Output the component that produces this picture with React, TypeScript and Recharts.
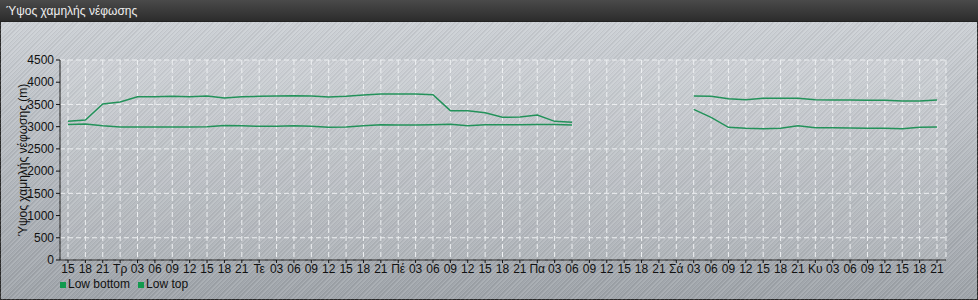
import { LineChart, Line, XAxis, YAxis, CartesianGrid } from 'recharts'

const hours = ['15', '18', '21', 'Τρ', '03', '06', '09', '12', '15', '18', '21', 'Τε', '03', '06', '09', '12', '15', '18', '21', 'Πέ', '03', '06', '09', '12', '15', '18', '21', 'Πα', '03', '06', '09', '12', '15', '18', '21', 'Σά', '03', '06', '09', '12', '15', '18', '21', 'Κυ', '03', '06', '09', '12', '15', '18', '21']

const lowBottom = [3050, 3060, 3020, 2992, 2995, 2995, 2995, 2990, 3000, 3025, 3020, 3007, 3012, 3020, 3012, 2985, 2990, 3020, 3045, 3040, 3040, 3045, 3055, 3022, 3045, 3045, 3045, 3050, 3050, 3037, null, null, null, null, null, null, 3390, 3210, 2985, 2962, 2955, 2962, 3022, 2977, 2977, 2970, 2962, 2962, 2955, 2985, 2992]

const lowTop = [3120, 3150, 3510, 3555, 3675, 3675, 3683, 3675, 3690, 3645, 3675, 3683, 3690, 3697, 3690, 3667, 3683, 3712, 3735, 3735, 3735, 3720, 3360, 3360, 3315, 3210, 3215, 3262, 3120, 3097, null, null, null, null, null, null, 3690, 3683, 3630, 3608, 3637, 3637, 3637, 3608, 3600, 3600, 3593, 3593, 3578, 3578, 3600]

const yTicks = [0, 500, 1000, 1500, 2000, 2500, 3000, 3500, 4000, 4500]

const data = hours.map((h, i) => ({ idx: i, h, bottom: lowBottom[i], top: lowTop[i] }))

const GREEN = '#23925a'
const font = '"Liberation Sans", Arial, sans-serif'

export default function App() {
  return (
    <div style={{ position: 'absolute', left: 0, top: 0, width: 978, height: 300, fontFamily: font, overflow: 'hidden' }}>
      <div style={{ position: 'absolute', left: 0, top: 0, width: 978, height: 300, boxSizing: 'border-box', border: '1px solid #2a2a2a', background: 'linear-gradient(#d0d4d9, #9fa4aa)' }} />
      <div style={{ position: 'absolute', left: 0, top: 0, width: 978, height: 300, backgroundImage: 'repeating-linear-gradient(135deg, rgba(255,255,255,0.10) 0px, rgba(255,255,255,0.10) 1px, rgba(0,0,0,0.05) 1px, rgba(0,0,0,0.05) 2px, transparent 2px, transparent 3px)' }} />
      <div style={{ position: 'absolute', left: 0, top: 0, width: 978, height: 22, background: 'linear-gradient(#4a4a4a, #2c2c2c)', borderBottom: '1px solid #222', color: '#eee', fontSize: 12, lineHeight: '22px', paddingLeft: 6, boxSizing: 'border-box' }}>
        Ύψος χαμηλής νέφωσης
      </div>
      <div style={{ position: 'absolute', left: 0, top: 0 }}>
        <LineChart width={978} height={300} data={data} margin={{ top: 60, right: 32, bottom: 20, left: 0 }}>
          <CartesianGrid stroke="#eef0f2" strokeDasharray="5 3" fill="#ffffff" fillOpacity={0.12} />
          <XAxis dataKey="h" interval={0} padding={{ left: 8, right: 9 }} height={20} tickSize={3} tickMargin={1} tickLine={{ stroke: '#111' }} axisLine={{ stroke: '#111' }} tick={{ fill: '#111', fontSize: 12, fontFamily: font }} />
          <YAxis domain={[0, 4500]} ticks={yTicks} width={60} tickSize={4} tickLine={{ stroke: '#111' }} axisLine={{ stroke: '#111' }} tick={{ fill: '#111', fontSize: 12, fontFamily: font }} label={{ value: 'Ύψος χαμηλής νέφωσης (m)', angle: -90, position: 'center', dx: -7, fill: '#111', fontSize: 12, fontFamily: font }} />
          <Line dataKey="bottom" name="Low bottom" stroke={GREEN} strokeWidth={1.5} dot={false} isAnimationActive={false} />
          <Line dataKey="top" name="Low top" stroke={GREEN} strokeWidth={1.5} dot={false} isAnimationActive={false} />
        </LineChart>
      </div>
      <div style={{ position: 'absolute', left: 60, top: 278, display: 'flex', gap: 8, fontSize: 12, lineHeight: '12px', color: '#111' }}>
        <span style={{ display: 'flex', alignItems: 'center' }}>
          <span style={{ width: 6, height: 6, background: '#129a4e', marginRight: 2, marginTop: 2 }} />Low bottom
        </span>
        <span style={{ display: 'flex', alignItems: 'center' }}>
          <span style={{ width: 6, height: 6, background: '#129a4e', marginRight: 2, marginTop: 2 }} />Low top
        </span>
      </div>
    </div>
  )
}
